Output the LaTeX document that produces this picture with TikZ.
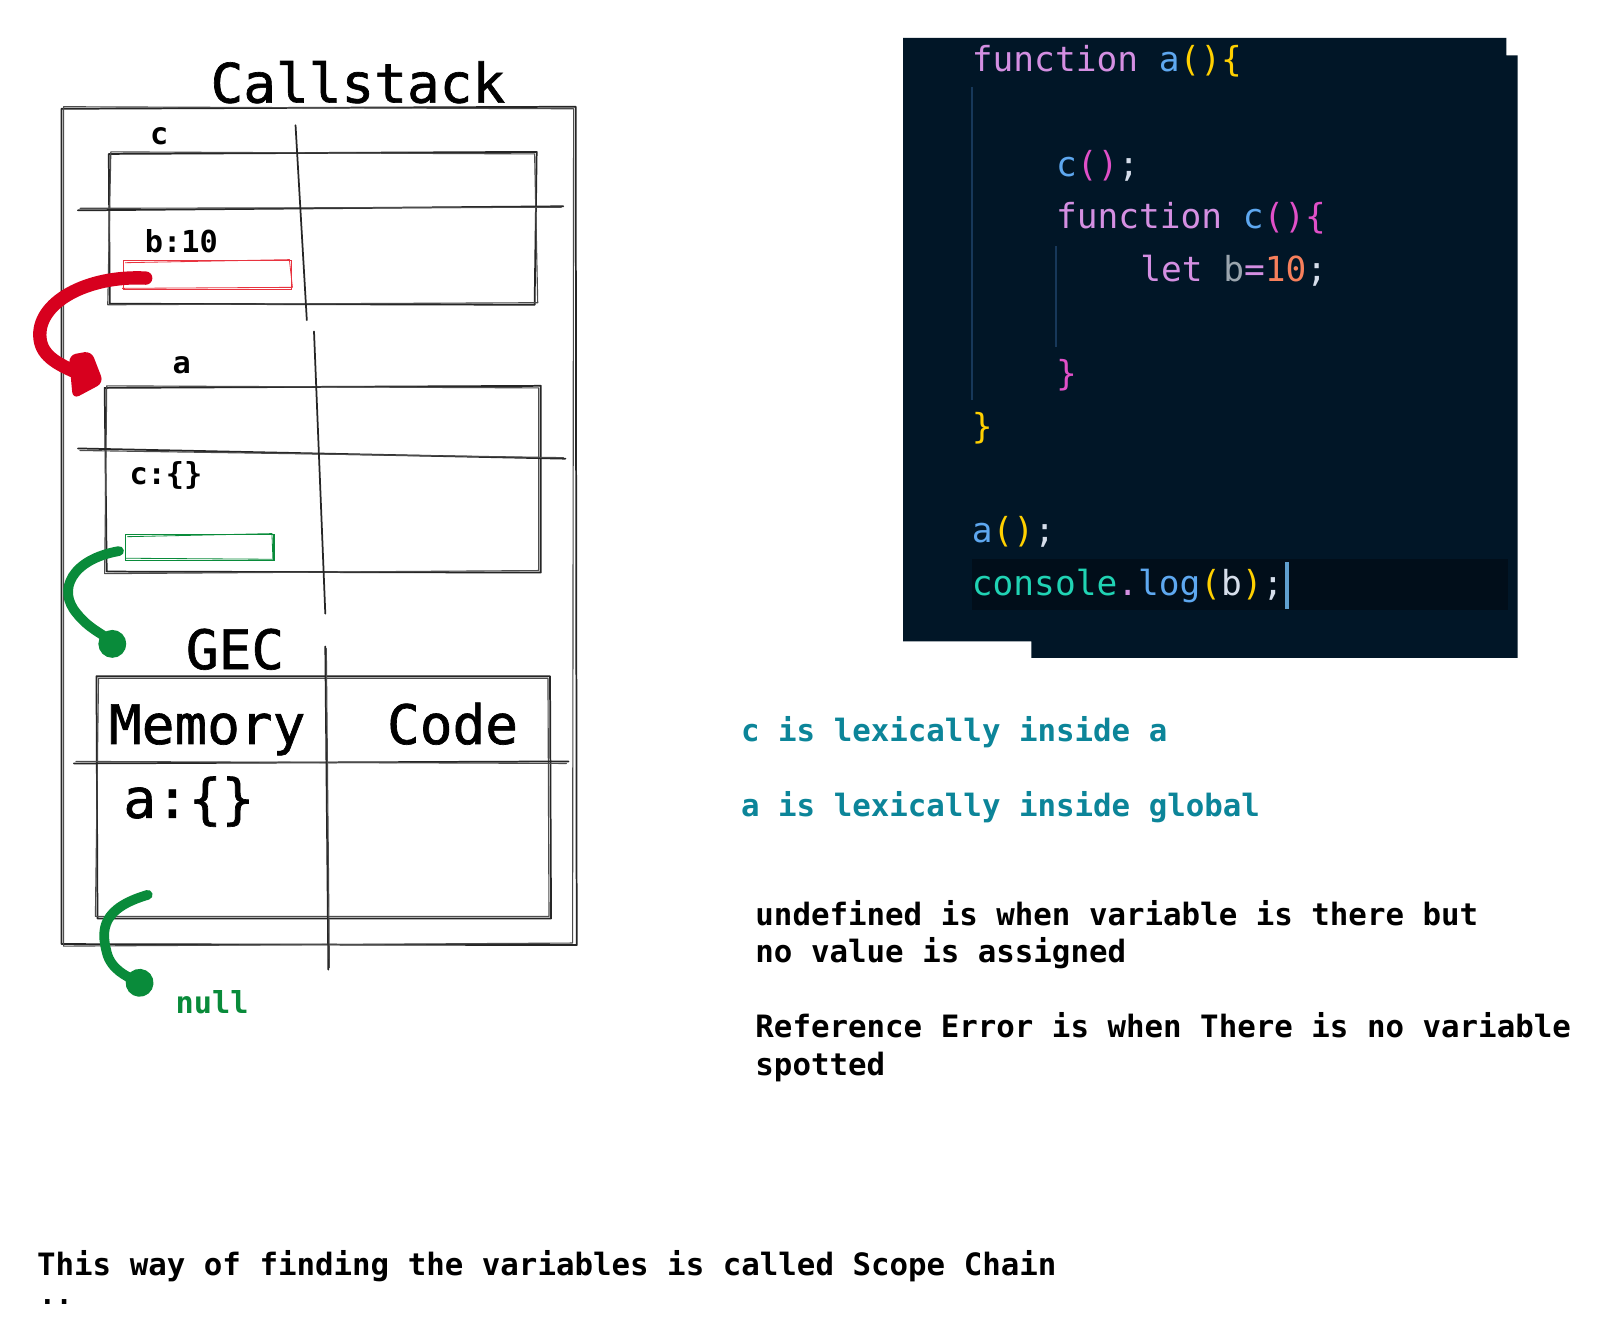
\documentclass[tikz,border=0pt]{standalone}
\usepackage{fontspec}
\setmonofont{DejaVu Sans Mono}
\newfontfamily\heavymono{DejaVu Sans Mono}[FakeBold=1.2]
\usetikzlibrary{arrows.meta}
\definecolor{codebg}{HTML}{011627}
\definecolor{curline}{HTML}{010E1A}
\definecolor{guide}{HTML}{17385A}
\definecolor{kw}{HTML}{D48FE2}
\definecolor{fn}{HTML}{5EA8F0}
\definecolor{yl}{HTML}{FFD000}
\definecolor{mg}{HTML}{E050C8}
\definecolor{pl}{HTML}{D6DEEB}
\definecolor{gv}{HTML}{9AA5AE}
\definecolor{num}{HTML}{F7805C}
\definecolor{cons}{HTML}{20D3B4}
\definecolor{cursor}{HTML}{5F9FCF}
\definecolor{teal}{HTML}{0C8599}
\definecolor{redarrow}{HTML}{D7001E}
\definecolor{redbox}{HTML}{E8333F}
\definecolor{grn}{HTML}{098B3A}
\begin{document}
\begin{tikzpicture}[x=1pt,y=-1pt,
  big/.style={anchor=base west,inner sep=0pt,font=\heavymono\fontsize{53}{60}\selectfont},
  lbl/.style={anchor=base west,inner sep=0pt,font=\ttfamily\bfseries\fontsize{29.5}{35}\selectfont},
  note/.style={anchor=base west,inner sep=0pt,font=\ttfamily\bfseries\fontsize{30}{36}\selectfont},
  codetxt/.style={anchor=base west,inner sep=0pt,font=\ttfamily\fontsize{33.6}{40}\selectfont},
  sk/.style={line width=1.7pt,black!85,line cap=round,line join=round},
  sk2/.style={line width=1.1pt,black!70,line cap=round,line join=round},
  redarr/.style={line width=13pt,redarrow,line cap=round},
  grnarr/.style={line width=9.5pt,grn,line cap=round,-{Circle[length=27pt]}}]
\fill[white] (0,0) rectangle (1568,1302);
\useasboundingbox (0,0) rectangle (1568,1302);

% ---------- Callstack ----------
\node[big] (title) at (205,100) {Callstack};
% outer box
\draw[sk] (60,106) -- (561,104) -- (562,921) -- (60,920) -- cycle;
\draw[sk2] (62,104) -- (559,106) -- (558,919) -- (62,922) -- cycle;

% frame c
\node[lbl] (lc) at (146,141) {c};
\draw[sk] (106,150) -- (523,148) -- (521,297) -- (107,296) -- cycle;
\draw[sk2] (108,148) -- (521,150) -- (524,295) -- (105,297) -- cycle;
\draw[sk] (76,205) -- (549,201);
\draw[sk2] (78,203) -- (547,202);
\draw[sk] (288,122) -- (299,312);
\node[lbl] (lb) at (141,246) {b:10};
\draw[redbox,line width=1.2pt] (120,254) rectangle (284,282);
\draw[redbox,line width=0.8pt] (122,256) -- (282,253) -- (285,280) -- (119,281);

% frame a
\node[lbl] (la) at (168,364) {a};
\draw[sk] (102,378) -- (527,376) -- (527,558) -- (104,557) -- cycle;
\draw[sk2] (104,376) -- (525,378) -- (525,556) -- (102,559) -- cycle;
\draw[sk] (76,437) -- (551,447);
\draw[sk2] (78,439) -- (549,446);
\draw[sk] (306,323) -- (317,598);
\node[lbl] (lcv) at (126,472) {c:\{\}};
\draw[grn,line width=1.3pt] (122,521) rectangle (267,546);
\draw[grn,line width=0.8pt] (124,523) -- (265,520) -- (266,545) -- (123,544);

% GEC
\node[big] (gec) at (181,652) {GEC};
\draw[sk] (94,659) -- (536,659) -- (537,895) -- (95,895) -- cycle;
\draw[sk2] (96,661) -- (534,661) -- (535,893) -- (93,893) -- cycle;
\draw[sk] (72,744) -- (554,742);
\draw[sk2] (74,742) -- (552,744);
\draw[sk] (317,630) -- (320,945);
\draw[sk2] (318,632) -- (321,943);
\node[big] (mem) at (106,725) {Memory};
\node[big] (code) at (377,725) {Code};
\node[big] (av) at (120,797) {a:\{\}};
\node[lbl,text=grn] (null) at (171,988) {null};

% arrows
\coordinate (r0) at (142,271);
\coordinate (r1) at (82,366);
\draw[redarr] (r0) .. controls (85,268) and (35,295) .. (39,330) .. controls (41,348) and (58,356) .. (r1);
\fill[redarrow,rounded corners=7pt] (67,346) -- (89,342) -- (101,373) -- (71,389) -- cycle;
\coordinate (g0) at (116,537);
\coordinate (g1) at (119,637);
\draw[grnarr] (g0) .. controls (70,545) and (55,575) .. (75,598) .. controls (86,612) and (100,618) .. (g1);
\coordinate (h0) at (144,872);
\coordinate (h1) at (148,964);
\draw[grnarr] (h0) .. controls (100,885) and (98,905) .. (104,928) .. controls (108,945) and (125,952) .. (h1);

% ---------- code panel ----------
\fill[codebg] (880,37) -- (1468,37) -- (1468,54) -- (1479,54) -- (1479,641) -- (1005,641) -- (1005,625) -- (880,625) -- cycle;
\fill[curline] (947,545) rectangle (1470,594);
\draw[guide,line width=2pt] (947,85) -- (947,390);
\draw[guide,line width=2pt] (1029,240) -- (1029,338);
\node[codetxt] (c1) at (947,70) {\textcolor{kw}{function} \textcolor{fn}{a}\textcolor{yl}{()\{}};
\node[codetxt] (c2) at (1029,172) {\textcolor{fn}{c}\textcolor{mg}{()}\textcolor{pl}{;}};
\node[codetxt] (c3) at (1029,223) {\textcolor{kw}{function} \textcolor{fn}{c}\textcolor{mg}{()\{}};
\node[codetxt] (c4) at (1111,274) {\textcolor{kw}{let} \textcolor{gv}{b}\textcolor{kw}{=}\textcolor{num}{10}\textcolor{pl}{;}};
\node[codetxt] (c5) at (1029,376) {\textcolor{mg}{\}}};
\node[codetxt] (c6) at (947,427) {\textcolor{yl}{\}}};
\node[codetxt] (c7) at (947,529) {\textcolor{fn}{a}\textcolor{yl}{()}\textcolor{pl}{;}};
\node[codetxt] (c8) at (947,580) {\textcolor{cons}{console}\textcolor{kw}{.}\textcolor{fn}{log}\textcolor{yl}{(}\textcolor{pl}{b}\textcolor{yl}{)}\textcolor{pl}{;}};
\fill[cursor] (1252,548) rectangle (1256,593);

% ---------- notes ----------
\node[note,text=teal] (n1) at (722,723) {c is lexically inside a};
\node[note,text=teal] (n2) at (722,796) {a is lexically inside global};
\node[note] (n3) at (736,902) {undefined is when variable is there but};
\node[note] (n4) at (736,938) {no value is assigned};
\node[note] (n5) at (736,1011) {Reference Error is when There is no variable};
\node[note] (n6) at (736,1048) {spotted};
\node[note] (n7) at (36,1243) {This way of finding the variables is called Scope Chain};
\node[anchor=base west,inner sep=0pt,font=\ttfamily\bfseries\fontsize{27}{30}\selectfont] (n8) at (38,1271) {..};
\end{tikzpicture}
\end{document}
